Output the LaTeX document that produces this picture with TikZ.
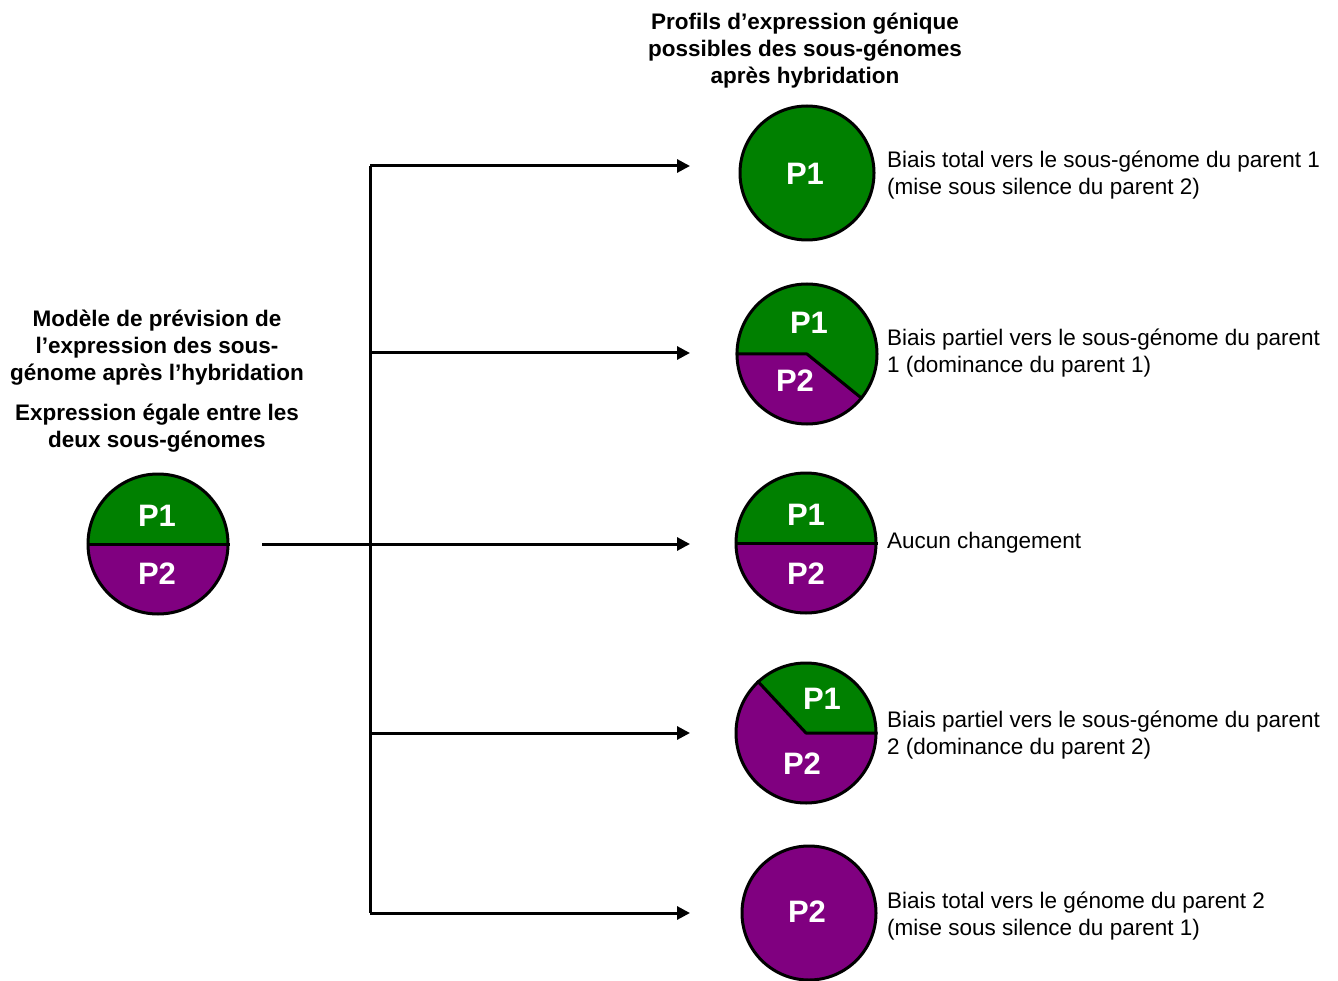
\documentclass[tikz,border=0pt]{standalone}
\usepackage{fontspec}
\setmainfont{Liberation Sans}
\usetikzlibrary{arrows.meta,positioning}
\definecolor{pgreen}{RGB}{0,128,0}
\definecolor{ppurple}{RGB}{128,0,128}
\tikzstyle{ring}=[circle,draw,line width=3pt,inner sep=0pt,minimum size=140pt]
\tikzstyle{lab}=[text=white,font=\fontsize{31}{31}\selectfont\bfseries,inner sep=0pt]
\tikzstyle{head}=[align=center,inner sep=0pt,font=\fontsize{22.5}{27}\selectfont\bfseries]
\tikzstyle{note}=[align=left,anchor=west,inner sep=0pt,font=\fontsize{22.5}{27}\selectfont]
\tikzstyle{arr}=[-{Triangle[length=13pt,width=13pt]},line width=3pt]
\tikzstyle{cut}=[line width=3pt,line join=round]

\begin{document}
\begin{tikzpicture}[x=1pt,y=1pt]
\useasboundingbox (0,0) rectangle (1338,-981);
% headings
\node[head] (H) at (805,-51) {Profils d’expression génique\\possibles des sous-génomes\\après hybridation};
\node[head] (M) at (157,-348) {Modèle de prévision de\\l’expression des sous-\\génome après l’hybridation};
\node[head, below=18pt of M] (E) {Expression égale entre les\\deux sous-génomes};
% starting profile
\fill[pgreen] (158,-544) -- +(180:70) arc[start angle=180,end angle=0,radius=70] -- cycle;
\fill[ppurple] (158,-544) -- +(180:70) arc[start angle=180,end angle=360,radius=70] -- cycle;
\node[ring, minimum size=140pt] (L) at (158,-544) {};
\draw[cut] (L.west) -- (L.east);
\node[lab] at (157,-516) {P1};
\node[lab] at (157,-574) {P2};
% profile 1
\node[ring, fill=pgreen, minimum size=134pt] (C1) at (807,-173) {};
\node[lab] at (805,-174) {P1};
% profile 2
\fill[pgreen] (807,-354) -- +(180:70) arc[start angle=180,end angle=-39,radius=70] -- cycle;
\fill[ppurple] (807,-354) -- +(180:70) arc[start angle=180,end angle=321,radius=70] -- cycle;
\node[ring] (C2) at (807,-354) {};
\draw[cut] (C2.west) -- (C2.center) -- (C2.-39);
\node[lab] at (809,-323) {P1};
\node[lab] at (795,-381) {P2};
% profile 3
\fill[pgreen] (806,-543) -- +(180:70) arc[start angle=180,end angle=0,radius=70] -- cycle;
\fill[ppurple] (806,-543) -- +(180:70) arc[start angle=180,end angle=360,radius=70] -- cycle;
\node[ring] (C3) at (806,-543) {};
\draw[cut] (C3.west) -- (C3.east);
\node[lab] at (806,-515) {P1};
\node[lab] at (806,-574) {P2};
% profile 4
\fill[pgreen] (806,-733) -- +(0:70) arc[start angle=0,end angle=133,radius=70] -- cycle;
\fill[ppurple] (806,-733) -- +(133:70) arc[start angle=133,end angle=360,radius=70] -- cycle;
\node[ring] (C4) at (806,-733) {};
\draw[cut] (C4.133) -- (C4.center) -- (C4.east);
\node[lab] at (822,-699) {P1};
\node[lab] at (802,-764) {P2};
% profile 5
\node[ring, fill=ppurple, minimum size=134pt] (C5) at (809,-913) {};
\node[lab] at (807,-912) {P2};
% descriptions
\node[note] (N1) at (887,-175) {Biais total vers le sous-génome du parent 1\\(mise sous silence du parent 2)};
\node[note] (N2) at (887,-353) {Biais partiel vers le sous-génome du parent\\1 (dominance du parent 1)};
\node[note] (N3) at (887,-543) {Aucun changement};
\node[note] (N4) at (887,-735) {Biais partiel vers le sous-génome du parent\\2 (dominance du parent 2)};
\node[note] (N5) at (887,-916) {Biais total vers le génome du parent 2\\(mise sous silence du parent 1)};
% connectors
\coordinate (S) at (262,-544);
\coordinate (T1) at (690,-166);
\coordinate (T2) at (690,-353);
\coordinate (T3) at (690,-544);
\coordinate (T4) at (690,-733);
\coordinate (T5) at (690,-913);
\coordinate (B1) at (370,-166);
\coordinate (B2) at (370,-353);
\coordinate (B4) at (370,-733);
\coordinate (B5) at (370,-913);
\draw[line width=3pt] (B1) -- (B5);
\draw[arr] (S) -- (T3);
\draw[arr] (B1) -- (T1);
\draw[arr] (B2) -- (T2);
\draw[arr] (B4) -- (T4);
\draw[arr] (B5) -- (T5);
\end{tikzpicture}
\end{document}
